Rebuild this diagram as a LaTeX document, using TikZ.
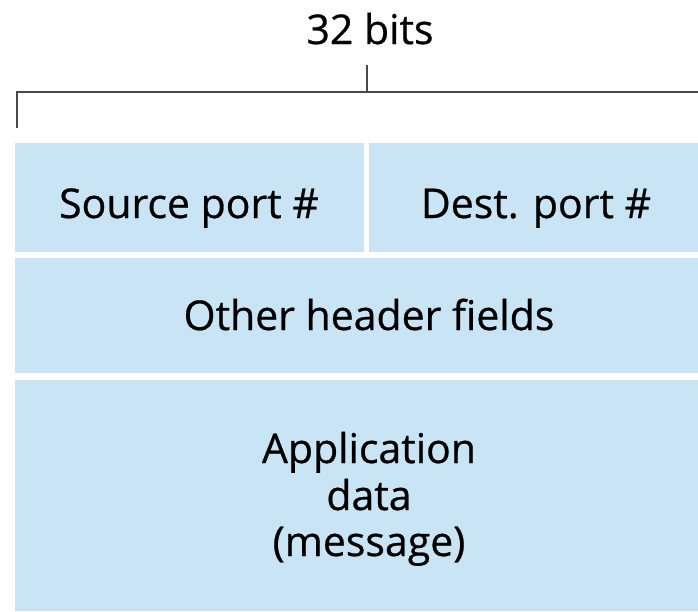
\documentclass[tikz,border=0pt]{standalone}
\usepackage{fontspec}
\setmainfont{Open Sans}[FakeBold=0.6]
\definecolor{fieldblue}{HTML}{C8E4F5}
\definecolor{bracketgray}{HTML}{4A4A4A}
\begin{document}
\begin{tikzpicture}[x=1pt,y=-1pt,
  field/.style={fill=fieldblue,draw=none,inner sep=0pt},
  lbl/.style={inner sep=0pt,anchor=base,font=\fontsize{41}{47}\selectfont},
  brk/.style={draw=bracketgray,line width=2pt}]
\useasboundingbox (0,0) rectangle (698,611);
\node[field,minimum width=349pt,minimum height=109pt] (src) at (15+174.5,143+54.5) {};
\node[field,minimum width=329pt,minimum height=109pt] (dst) at (369+164.5,143+54.5) {};
\node[field,minimum width=683pt,minimum height=115pt] (oth) at (15+341.5,258+57.5) {};
\node[field,minimum width=683pt,minimum height=231pt] (app) at (15+341.5,380+115.5) {};
\node[lbl] (srct) at (189,218) {Source port \#};
\node[lbl] (dstt) at (536,218) {Dest. port \#};
\node[lbl] (otht) at (369,330) {Other header fields};
\node[lbl] (app1) at (369,463) {Application};
\node[lbl] (app2) at (369,510) {data};
\node[lbl] (app3) at (369,556) {(message)};
\node[lbl] (bits) at (370,44) {32 bits};
\coordinate (bl) at (17,128);
\coordinate (bt) at (17,92);
\coordinate (br) at (698,92);
\coordinate (cm) at (367,92);
\coordinate (ct) at (367,65);
\draw[brk] (bl) -- (bt) -- (br);
\draw[brk] (ct) -- (cm);
\end{tikzpicture}
\end{document}
